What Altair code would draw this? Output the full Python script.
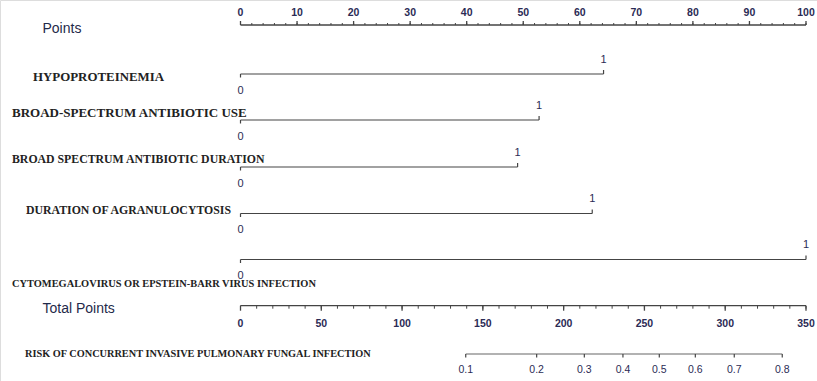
import altair as alt
import pandas as pd

# ---------------- data ----------------
points_major = list(range(0, 101, 10))
points_minor = list(range(0, 101, 2))

var_names = [
    "HYPOPROTEINEMIA",
    "BROAD-SPECTRUM ANTIBIOTIC USE",
    "BROAD SPECTRUM ANTIBIOTIC DURATION",
    "DURATION OF AGRANULOCYTOSIS",
    "CYTOMEGALOVIRUS OR EPSTEIN-BARR VIRUS INFECTION",
]
var_points = [64.2, 52.8, 49.0, 62.2, 100.0]

total_major = list(range(0, 351, 50))
total_minor = list(range(0, 351, 10))
total_max = 350

risk_values = [0.1, 0.2, 0.3, 0.4, 0.5, 0.6, 0.7, 0.8]
risk_total_points = [139.4, 183.3, 212.8, 236.7, 259.2, 281.5, 305.6, 335.3]

# ---------------- layout ----------------
W, H = 817, 381
x0_px, x100_px = 240.5, 806.0
ppp = (x100_px - x0_px) / 100.0
xs = alt.Scale(domain=[-x0_px / ppp, (W - x0_px) / ppp], nice=False, zero=False)
ys = alt.Scale(domain=[0, H], reverse=True, nice=False, zero=False)

row_y = [74, 120, 167, 213.5, 259.5]
# (x, y, fontSize)
label_pos = [(33, 76.7, 12.9), (12, 113, 13), (12, 159, 11.8),
             (26, 209.5, 11.8), (12, 283.5, 10.4)]
top_axis_y = 25
total_axis_y = 305.7
risk_axis_y = 354

LINE = "#444444"
TICKCOL = "#2b2b55"
SANS = "Liberation Sans"
SERIF = "Liberation Serif"


def X(f="x"):
    return alt.X(f"{f}:Q", scale=xs, axis=None)


def Y(v):
    return alt.Y(datum=v, scale=ys, axis=None)


layers = []

# Points axis
pm = pd.DataFrame({"x": points_major, "lab": [str(v) for v in points_major]})
pn = pd.DataFrame({"x": points_minor})
layers.append(alt.Chart(pd.DataFrame({"x": [0], "x2": [100]})).mark_rule(color=LINE, strokeWidth=1.3).encode(
    x=X(), x2="x2:Q", y=Y(top_axis_y)))
layers.append(alt.Chart(pn).mark_rule(color=LINE, strokeWidth=1).encode(x=X(), y=Y(top_axis_y), y2=alt.Y2(datum=top_axis_y - 2)))
layers.append(alt.Chart(pm).mark_rule(color=LINE, strokeWidth=1.3).encode(x=X(), y=Y(top_axis_y), y2=alt.Y2(datum=top_axis_y - 4)))
layers.append(alt.Chart(pm).mark_text(font=SANS, fontSize=10.5, fontWeight="bold", color=TICKCOL, baseline="middle").encode(
    x=X(), y=Y(12.7), text="lab:N"))

# Variable rows
for name, val, ry in zip(var_names, var_points, row_y):
    d = pd.DataFrame({"x": [0.0], "x2": [val], "v": [val]})
    layers.append(alt.Chart(d).mark_rule(color=LINE, strokeWidth=1.2).encode(x=X(), x2="x2:Q", y=Y(ry)))
    layers.append(alt.Chart(d).mark_rule(color=LINE, strokeWidth=1.2).encode(x=X(), y=Y(ry), y2=alt.Y2(datum=ry + 3.5)))
    layers.append(alt.Chart(d).mark_rule(color=LINE, strokeWidth=1.2).encode(x=X("v"), y=Y(ry), y2=alt.Y2(datum=ry - 4)))
    layers.append(alt.Chart(d).mark_text(font=SANS, fontSize=11, color=TICKCOL, baseline="middle", text="1").encode(
        x=X("v"), y=Y(ry - 14.5)))
    layers.append(alt.Chart(d).mark_text(font=SANS, fontSize=11, color=TICKCOL, baseline="middle", text="0").encode(
        x=X(), y=Y(ry + 16.5)))

for name, (lx, ly, fs) in zip(var_names, label_pos):
    layers.append(alt.Chart(pd.DataFrame({"t": [name]})).mark_text(
        font=SERIF, fontSize=fs, fontWeight="bold", color="#222222", align="left", baseline="middle").encode(
        x=alt.value(lx), y=alt.value(ly), text="t:N"))

# Left titles
layers.append(alt.Chart(pd.DataFrame({"t": ["Points"]})).mark_text(
    font=SANS, fontSize=14, color="#1f2a4a", align="left", baseline="middle").encode(
    x=alt.value(42.5), y=alt.value(28.5), text="t:N"))
layers.append(alt.Chart(pd.DataFrame({"t": ["Total Points"]})).mark_text(
    font=SANS, fontSize=14, color="#1f2a4a", align="left", baseline="middle").encode(
    x=alt.value(42.5), y=alt.value(308.5), text="t:N"))
layers.append(alt.Chart(pd.DataFrame({"t": ["RISK OF CONCURRENT INVASIVE PULMONARY FUNGAL INFECTION"]})).mark_text(
    font=SERIF, fontSize=10.3, fontWeight="bold", color="#222222", align="left", baseline="middle").encode(
    x=alt.value(25), y=alt.value(354), text="t:N"))

# Total points axis
tm = pd.DataFrame({"x": [t * 100.0 / total_max for t in total_major], "lab": [str(t) for t in total_major]})
tn = pd.DataFrame({"x": [t * 100.0 / total_max for t in total_minor]})
layers.append(alt.Chart(pd.DataFrame({"x": [0.0], "x2": [100.0]})).mark_rule(color=LINE, strokeWidth=1.3).encode(
    x=X(), x2="x2:Q", y=Y(total_axis_y)))
layers.append(alt.Chart(tn).mark_rule(color=LINE, strokeWidth=1).encode(x=X(), y=Y(total_axis_y), y2=alt.Y2(datum=total_axis_y + 3)))
layers.append(alt.Chart(tm).mark_rule(color=LINE, strokeWidth=1.3).encode(x=X(), y=Y(total_axis_y), y2=alt.Y2(datum=total_axis_y + 5)))
layers.append(alt.Chart(tm).mark_text(font=SANS, fontSize=10.5, fontWeight="bold", color=TICKCOL, baseline="middle").encode(
    x=X(), y=Y(324), text="lab:N"))

# Risk axis
rk = pd.DataFrame({"x": [t * 100.0 / total_max for t in risk_total_points], "lab": [str(v) for v in risk_values]})
layers.append(alt.Chart(pd.DataFrame({"x": [risk_total_points[0] * 100.0 / total_max],
                                      "x2": [risk_total_points[-1] * 100.0 / total_max]})).mark_rule(
    color="#666666", strokeWidth=1.2).encode(x=X(), x2="x2:Q", y=Y(risk_axis_y)))
layers.append(alt.Chart(rk).mark_rule(color="#444444", strokeWidth=1.2).encode(x=X(), y=Y(risk_axis_y), y2=alt.Y2(datum=risk_axis_y + 3.5)))
layers.append(alt.Chart(rk).mark_text(font=SANS, fontSize=10.5, color=TICKCOL, baseline="middle").encode(
    x=X(), y=Y(370), text="lab:N"))

chart = alt.layer(*layers).properties(
    width=W, height=H, padding=0, autosize=alt.AutoSizeParams(type="none")
).configure_view(stroke=None).configure(background="white")

chart.save("out.html", embed_options={"renderer": "svg", "actions": False})
